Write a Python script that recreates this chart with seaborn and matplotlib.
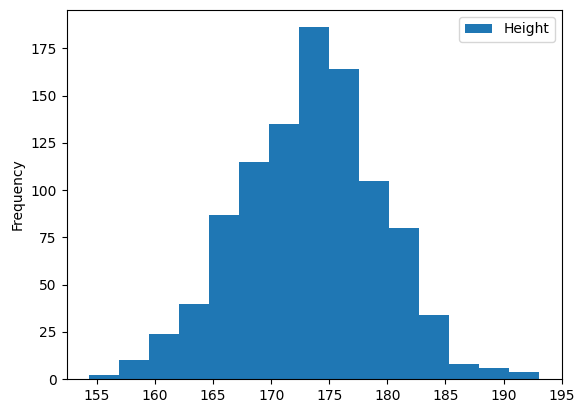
import matplotlib
matplotlib.use("Agg")
import matplotlib.pyplot as plt
import seaborn as sns

# Histogram of heights, 15 bins (counts)
bin_edges = [154.34, 156.92, 159.50, 162.08, 164.66, 167.24, 169.82, 172.40,
             174.97, 177.55, 180.13, 182.71, 185.29, 187.87, 190.45, 193.03]
counts = [2, 10, 24, 40, 87, 115, 135, 186, 164, 105, 80, 34, 8, 6, 4]
bin_centers = [(a + b) / 2 for a, b in zip(bin_edges[:-1], bin_edges[1:])]

fig, ax = plt.subplots(figsize=(5.84, 4.13), dpi=100)
fig.subplots_adjust(left=0.114, right=0.962, top=0.976, bottom=0.082)

sns.histplot(x=bin_centers, weights=counts, bins=bin_edges, ax=ax,
             color='#1f77b4', alpha=1, linewidth=0, label='Height')

# axis range as in the reference (right spine sits on the 195 tick)
ax.set_xlim(152.4, 195.01)
ax.set_ylim(0, 195.3)

ax.set_ylabel('Frequency')
ax.set_xlabel('')
ax.legend(loc='upper right')

fig.savefig('out.png', dpi=100)
